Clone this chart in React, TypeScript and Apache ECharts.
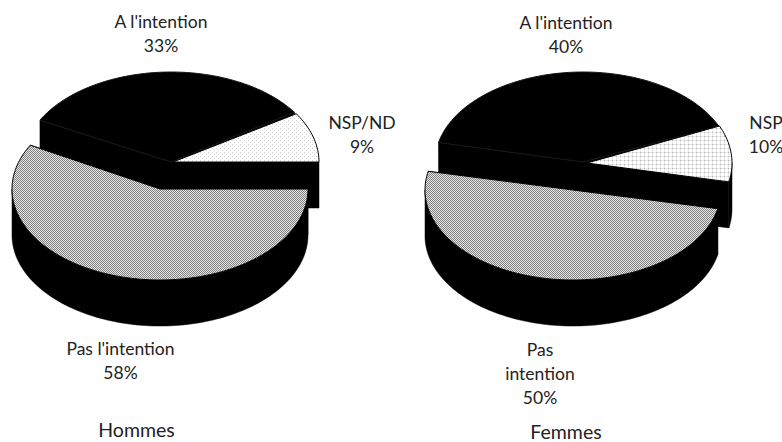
import React, { useEffect, useRef } from "react";
import * as echarts from "echarts";

const hommesNames = ["A l'intention", "NSP/ND", "Pas l'intention"];
const hommesValues = [33, 9, 58];
const femmesNames = ["A l'intention", "NSP", "Pas\nintention"];
const femmesValues = [40, 10, 50];
const chartTitles = ["Hommes", "Femmes"];

const FONT = "Lato";
const DEPTH = 46;
const TEXT = "#222222";

function tile(size: number, paint: (ctx: CanvasRenderingContext2D) => void) {
  const c = document.createElement("canvas");
  c.width = size;
  c.height = size;
  const ctx = c.getContext("2d")!;
  paint(ctx);
  return { image: c, repeat: "repeat", imageWidth: size, imageHeight: size };
}

function checker() {
  return tile(2, (ctx) => {
    ctx.fillStyle = "#e6e6e6";
    ctx.fillRect(0, 0, 2, 2);
    ctx.fillStyle = "#808080";
    ctx.fillRect(0, 0, 1, 1);
    ctx.fillRect(1, 1, 1, 1);
  });
}
function diagonalDots() {
  return tile(4, (ctx) => {
    ctx.fillStyle = "#ffffff";
    ctx.fillRect(0, 0, 4, 4);
    ctx.fillStyle = "#d0d0d0";
    ctx.fillRect(0, 0, 1, 1);
    ctx.fillRect(2, 2, 1, 1);
  });
}
function gridDots() {
  return tile(4, (ctx) => {
    ctx.fillStyle = "#ffffff";
    ctx.fillRect(0, 0, 4, 4);
    ctx.fillStyle = "#e6e6e6";
    ctx.fillRect(0, 0, 4, 1);
    ctx.fillRect(0, 0, 1, 4);
    ctx.fillStyle = "#b8b8b8";
    ctx.fillRect(0, 0, 1, 1);
  });
}

type SliceLayout = {
  cx: number; cy: number; rx: number; ry: number;
  start: number; dir: number; labelX: number; labelY: number;
};

// Geometry of each exploded slice: order A, NSP, Pas
const hommesLayout: SliceLayout[] = [
  { cx: 171, cy: 162, rx: 148, ry: 90, start: 33.5, dir: 1, labelX: 161, labelY: 33 },
  { cx: 173, cy: 162, rx: 146, ry: 90, start: 0, dir: 1, labelX: 362, labelY: 134 },
  { cx: 160, cy: 189, rx: 148, ry: 91, start: 0, dir: -1, labelX: 120.5, labelY: 360 },
];
const femmesLayout: SliceLayout[] = [
  { cx: 583, cy: 162, rx: 148, ry: 90, start: 23.5, dir: 1, labelX: 566, labelY: 34 },
  { cx: 587, cy: 163, rx: 145, ry: 91, start: -12, dir: 1, labelX: 766, labelY: 134 },
  { cx: 573, cy: 190, rx: 148, ry: 90, start: -12, dir: -1, labelX: 540, labelY: 373 },
];

function arcPoints(l: SliceLayout, a0: number, a1: number, dy = 0) {
  const pts: number[][] = [];
  const n = Math.max(2, Math.ceil(Math.abs(a1 - a0) / 1.5));
  for (let i = 0; i <= n; i++) {
    const a = ((a0 + ((a1 - a0) * i) / n) * Math.PI) / 180;
    pts.push([l.cx + l.rx * Math.cos(a), l.cy - l.ry * Math.sin(a) + dy]);
  }
  return pts;
}

function pieSeries(names: string[], values: number[], layout: SliceLayout[], fills: any[], strokes: string[]) {
  return {
    type: "custom",
    coordinateSystem: "none",
    silent: true,
    clip: false,
    data: values.map((v, i) => ({ value: [v, i] })),
    renderItem: (_p: any, api: any) => {
      const value = api.value(0) as number;
      const i = api.value(1) as number;
      const l = layout[i];
      const span = (value / 100) * 360 * l.dir;
      const a0 = l.start;
      const a1 = l.start + span;
      const apex = [l.cx, l.cy];
      const children: any[] = [];
      const black = { fill: "#000", stroke: "#000", lineWidth: 0.5 };
      // cut faces
      for (const a of [a0, a1]) {
        const e = arcPoints(l, a, a, 0)[0];
        children.push({
          type: "polygon",
          shape: { points: [apex, e, [e[0], e[1] + DEPTH], [apex[0], apex[1] + DEPTH]] },
          style: black,
        });
      }
      // outer wall: only the part of the rim facing the viewer (180..360 deg)
      const lo = Math.min(a0, a1);
      const hi = Math.max(a0, a1);
      for (const shift of [-360, 0, 360]) {
        const from = Math.max(lo, 180 + shift);
        const to = Math.min(hi, 360 + shift);
        if (to > from) {
          const top = arcPoints(l, from, to);
          const bottom = arcPoints(l, to, from, DEPTH);
          children.push({ type: "polygon", shape: { points: top.concat(bottom) }, style: black });
        }
      }
      // top face
      children.push({
        type: "polygon",
        shape: { points: [apex].concat(arcPoints(l, a0, a1)) },
        style: { fill: fills[i], stroke: strokes[i], lineWidth: 1 },
      });
      // label
      children.push({
        type: "text",
        style: {
          x: l.labelX,
          y: l.labelY,
          text: `${names[i]}\n${value}%`,
          align: "center",
          verticalAlign: "middle",
          fontFamily: FONT,
          fontSize: 17.5,
          lineHeight: 24,
          fill: TEXT,
        },
      });
      return { type: "group", children };
    },
  };
}

export default function App() {
  const ref = useRef<HTMLDivElement>(null);
  useEffect(() => {
    const chart = echarts.init(ref.current!, undefined, { renderer: "svg" });
    const pasFill = checker();
    chart.setOption({
      animation: false,
      backgroundColor: "#ffffff",
      series: [
        pieSeries(hommesNames, hommesValues, hommesLayout, ["#000", diagonalDots(), pasFill], ["#161616", "#000", "#000"]),
        pieSeries(femmesNames, femmesValues, femmesLayout, ["#000", gridDots(), pasFill], ["#161616", "#000", "#000"]),
      ],
      graphic: [
        { type: "text", x: 136.5, y: 429, style: { text: chartTitles[0], align: "center", verticalAlign: "middle", fontFamily: FONT, fontSize: 19.5, fill: TEXT } },
        { type: "text", x: 566, y: 431.5, style: { text: chartTitles[1], align: "center", verticalAlign: "middle", fontFamily: FONT, fontSize: 19.5, fill: TEXT } },
      ],
    });
    return () => chart.dispose();
  }, []);
  return <div ref={ref} style={{ position: "absolute", left: 0, top: 0, width: 782, height: 442 }} />;
}
